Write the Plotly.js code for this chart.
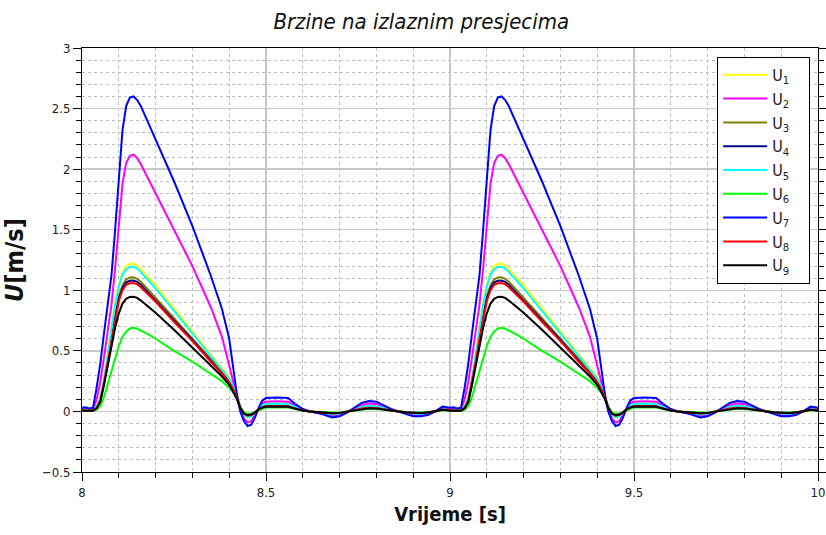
<!DOCTYPE html>
<html>
<head>
<meta charset="utf-8">
<script src="https://cdn.plot.ly/plotly-3.0.1.min.js"></script>
<style>html,body{margin:0;padding:0;background:#fff;}#chart{width:826px;height:535px;}</style>
</head>
<body>
<div id="chart"></div>
<script>
// time within one period (s), the chart repeats the same period from 8 s and from 9 s
const cycleT = [0, .01, .02, .03, .04, .05, .06, .07, .08, .09, .10, .11, .12, .13, .14,
  .15, .16, .18, .20, .25, .30, .35, .38, .40, .41, .42, .43,
  .44, .45, .46, .47, .48, .49, .50, .53, .56, .58, .60, .62, .65, .68, .70,
  .72, .74, .76, .78, .80, .82, .84, .86, .88, .90, .92, .94, .96, .98];
const cycleStarts = [8, 9];
const tEnd = 10;

const seriesNames = ['U<sub>1</sub>','U<sub>2</sub>','U<sub>3</sub>','U<sub>4</sub>','U<sub>5</sub>','U<sub>6</sub>','U<sub>7</sub>','U<sub>8</sub>','U<sub>9</sub>'];
const seriesColors = ['#ffff00','#ff00ff','#808000','#000080','#00ffff','#00ff00','#0000ff','#ff0000','#000000'];

const U1 = [0.01,0.012,0.008,0.01,0.04,0.11,0.27,0.48,0.7,0.9,1.05,1.15,1.2,1.218,1.22,
  1.205,1.175,1.11,1.04,0.85,0.66,0.47,0.36,0.28,0.22,0.14,0.04,
  -0.03,-0.05,-0.045,-0.015,0.025,0.055,0.065,0.07,0.065,0.04,0.012,0.0,-0.012,-0.028,-0.022,
  -0.003,0.017,0.04,0.05,0.045,0.03,0.01,0.0,-0.012,-0.022,-0.022,-0.016,0.0,0.022];
const U2 = [0.02,0.025,0.018,0.02,0.1,0.25,0.45,0.68,0.88,1.18,1.55,1.88,2.05,2.11,2.12,
  2.09,2.04,1.92,1.8,1.5,1.2,0.86,0.62,0.38,0.26,0.13,0.01,
  -0.06,-0.09,-0.08,-0.03,0.03,0.07,0.08,0.085,0.08,0.045,0.015,0.0,-0.015,-0.035,-0.03,
  -0.005,0.02,0.05,0.065,0.06,0.04,0.015,0.0,-0.015,-0.03,-0.03,-0.02,0.0,0.03];
const U3 = [0.008,0.01,0.006,0.008,0.035,0.1,0.25,0.43,0.62,0.8,0.95,1.04,1.09,1.105,1.107,
  1.095,1.07,1.005,0.94,0.77,0.6,0.43,0.33,0.25,0.2,0.13,0.035,
  -0.02,-0.035,-0.03,-0.01,0.018,0.035,0.042,0.045,0.042,0.025,0.008,0.0,-0.008,-0.018,-0.014,
  -0.002,0.01,0.025,0.03,0.028,0.018,0.006,0.0,-0.007,-0.014,-0.014,-0.01,0.0,0.015];
const U4 = [0.008,0.01,0.006,0.008,0.035,0.1,0.24,0.42,0.61,0.78,0.93,1.02,1.065,1.078,1.08,
  1.07,1.045,0.98,0.92,0.755,0.59,0.42,0.32,0.245,0.195,0.125,0.035,
  -0.02,-0.035,-0.03,-0.01,0.018,0.035,0.042,0.045,0.042,0.025,0.008,0.0,-0.008,-0.018,-0.014,
  -0.002,0.01,0.025,0.03,0.028,0.018,0.006,0.0,-0.007,-0.014,-0.014,-0.01,0.0,0.015];
const U5 = [0.01,0.012,0.008,0.01,0.04,0.11,0.26,0.47,0.68,0.88,1.03,1.13,1.175,1.193,1.195,
  1.18,1.15,1.085,1.015,0.83,0.645,0.46,0.35,0.27,0.21,0.135,0.04,
  -0.03,-0.048,-0.043,-0.014,0.024,0.052,0.062,0.066,0.06,0.037,0.011,0.0,-0.011,-0.026,-0.02,
  -0.003,0.016,0.037,0.047,0.042,0.028,0.01,0.0,-0.011,-0.02,-0.02,-0.015,0.0,0.02];
const U6 = [0.005,0.006,0.004,0.005,0.015,0.045,0.12,0.22,0.33,0.44,0.54,0.615,0.66,0.685,0.69,
  0.682,0.668,0.636,0.6,0.5,0.41,0.31,0.25,0.195,0.16,0.105,0.04,
  -0.008,-0.02,-0.018,-0.005,0.012,0.026,0.033,0.035,0.032,0.02,0.006,0.0,-0.005,-0.012,-0.01,
  -0.001,0.008,0.018,0.022,0.02,0.013,0.004,0.0,-0.005,-0.01,-0.01,-0.007,0.0,0.01];
const U7 = [0.03,0.035,0.025,0.03,0.2,0.4,0.65,0.9,1.12,1.5,1.95,2.32,2.52,2.59,2.6,
  2.57,2.52,2.38,2.24,1.9,1.53,1.12,0.85,0.6,0.38,0.16,0.0,
  -0.08,-0.12,-0.11,-0.05,0.03,0.09,0.11,0.115,0.11,0.06,0.02,0.0,-0.02,-0.05,-0.04,
  -0.01,0.03,0.07,0.085,0.08,0.05,0.02,0.0,-0.02,-0.04,-0.04,-0.03,0.0,0.04];
const U8 = [0.008,0.01,0.006,0.008,0.03,0.09,0.24,0.41,0.6,0.77,0.91,1.0,1.045,1.058,1.06,
  1.05,1.025,0.965,0.905,0.74,0.58,0.41,0.315,0.24,0.19,0.12,0.03,
  -0.02,-0.035,-0.03,-0.01,0.018,0.035,0.042,0.045,0.042,0.025,0.008,0.0,-0.008,-0.018,-0.014,
  -0.002,0.01,0.025,0.03,0.028,0.018,0.006,0.0,-0.007,-0.014,-0.014,-0.01,0.0,0.015];
const U9 = [0.005,0.007,0.004,0.005,0.025,0.08,0.22,0.38,0.54,0.69,0.81,0.89,0.93,0.945,0.947,
  0.937,0.915,0.865,0.815,0.675,0.53,0.38,0.29,0.22,0.17,0.11,0.03,
  -0.018,-0.03,-0.026,-0.008,0.016,0.032,0.038,0.04,0.038,0.022,0.007,0.0,-0.007,-0.016,-0.012,
  -0.002,0.009,0.022,0.027,0.025,0.016,0.005,0.0,-0.006,-0.012,-0.012,-0.009,0.0,0.013];

const seriesValues = [U1, U2, U3, U4, U5, U6, U7, U8, U9];

const FONT = 'DejaVu Sans Condensed, DejaVu Sans, sans-serif';

const traces = seriesValues.map((vals, i) => {
  const x = [], y = [];
  cycleStarts.forEach(s => {
    cycleT.forEach((t, k) => { x.push(+(s + t).toFixed(3)); y.push(vals[k]); });
  });
  x.push(tEnd); y.push(vals[0]);
  return {
    x, y, type: 'scatter', mode: 'lines', name: seriesNames[i] + '\u2002\u2002',
    line: { color: seriesColors[i], width: 2 }
  };
});

const layout = {
  width: 826, height: 535,
  margin: { l: 82, r: 8, t: 48, b: 63 },
  paper_bgcolor: '#ffffff', plot_bgcolor: '#ffffff',
  font: { family: FONT, size: 13, color: '#222' },
  title: {
    text: '<i>Brzine na izlaznim presjecima</i>',
    font: { family: FONT, size: 22, color: '#111' },
    x: 0.51, xref: 'container', xanchor: 'center', y: 0.96, yref: 'container', yanchor: 'middle'
  },
  xaxis: {
    range: [8, 10], dtick: 0.5, tick0: 8,
    showline: true, linecolor: '#000', linewidth: 1, mirror: true,
    ticks: 'outside', ticklen: 8, tickcolor: '#000', tickwidth: 1,
    showgrid: true, gridcolor: '#c8c8c8', gridwidth: 1.5,
    zeroline: false,
    tickfont: { family: FONT, size: 13, color: '#222' },
    minor: { dtick: 0.1, ticks: 'outside', ticklen: 5, tickcolor: '#000', showgrid: true, gridcolor: '#bdbdbd', griddash: 'dot', gridwidth: 1 },
    title: { text: '<b>Vrijeme [s]</b>', font: { family: FONT, size: 20, color: '#111' }, standoff: 8 }
  },
  yaxis: {
    range: [-0.5, 3], dtick: 0.5, tick0: 0,
    showline: true, linecolor: '#000', linewidth: 1, mirror: 'ticks',
    ticks: 'outside', ticklen: 8, tickcolor: '#000', tickwidth: 1,
    showgrid: true, gridcolor: '#c8c8c8', gridwidth: 1.5,
    zeroline: false,
    tickfont: { family: FONT, size: 13, color: '#222' },
    minor: { dtick: 0.1, ticks: 'outside', ticklen: 5, tickcolor: '#000', showgrid: true, gridcolor: '#bdbdbd', griddash: 'dot', gridwidth: 1 },
    title: { text: '<b><i>U</i>[m/s]</b>', font: { family: FONT, size: 25, color: '#111' }, standoff: 12 }
  },
  showlegend: true,
  legend: {
    x: 0.863, y: 0.979, xanchor: 'left', yanchor: 'top',
    bgcolor: '#ffffff', bordercolor: '#000', borderwidth: 1,
    font: { family: FONT, size: 16, color: '#222' },
    tracegroupgap: 0, itemwidth: 44
  }
};

Plotly.newPlot('chart', traces, layout, { staticPlot: true, displayModeBar: false });
</script>
</body>
</html>
